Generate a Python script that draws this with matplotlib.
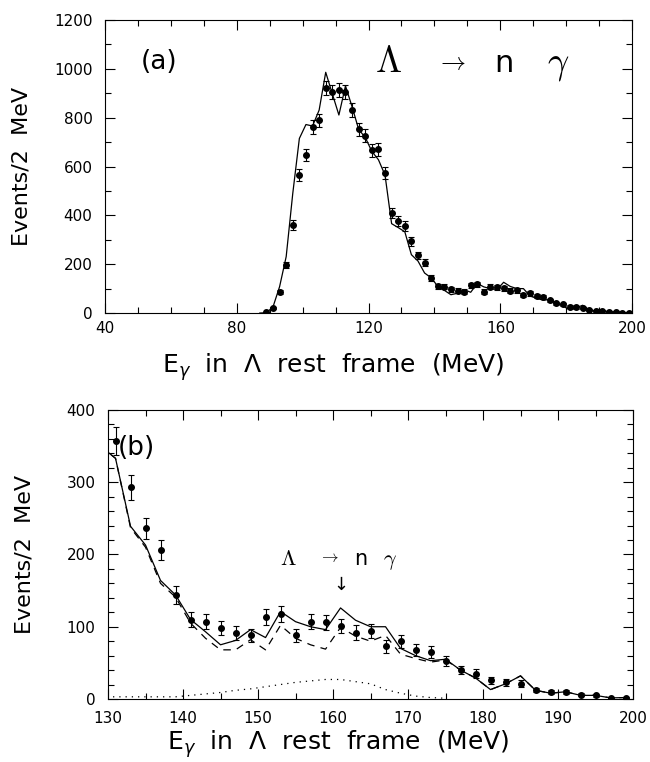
import matplotlib.pyplot as plt
from matplotlib.ticker import MultipleLocator

# measured spectrum, 2 MeV bins (bin centres in MeV)
energy = [89, 91, 93, 95, 97, 99, 101, 103, 105, 107,
          109, 111, 113, 115, 117, 119, 121, 123, 125, 127,
          129, 131, 133, 135, 137, 139, 141, 143, 145, 147,
          149, 151, 153, 155, 157, 159, 161, 163, 165, 167,
          169, 171, 173, 175, 177, 179, 181, 183, 185, 187,
          189, 191, 193, 195, 197, 199]
events = [3, 20, 87, 197, 360, 565, 648, 762, 789, 921,
          905, 914, 905, 831, 753, 727, 667, 671, 573, 410,
          377, 357, 293, 236, 206, 144, 110, 107, 98, 91,
          88, 113, 117, 88, 107, 106, 101, 92, 94, 73,
          80, 68, 65, 52, 40, 35, 26, 23, 21, 12,
          10, 10, 6, 5, 2, 2]
errors = [2, 4, 9, 14, 19, 24, 25, 28, 28, 30,
          30, 30, 30, 29, 27, 27, 26, 26, 24, 20,
          19, 19, 17, 15, 14, 12, 10, 10, 10, 10,
          9, 11, 11, 9, 10, 10, 10, 10, 10, 9,
          9, 8, 8, 7, 6, 6, 5, 5, 5, 3,
          3, 3, 2, 2, 1, 1]

# simulation: total (solid)
mc_energy = [87, 89, 91, 93, 95, 97, 99, 101, 103, 105,
             107, 109, 111, 113, 115, 117, 119, 121, 123, 125,
             127, 129, 131, 133, 135, 137, 139, 141, 143, 145,
             147, 149, 151, 153, 155, 157, 159, 161, 163, 165,
             167, 169, 171, 173, 175, 177, 179, 181, 183, 185,
             187, 189, 191, 193, 195, 197, 199]
mc_total = [0, 1, 25, 108, 231, 490, 715, 772, 766, 831,
            986, 898, 811, 930, 845, 752, 719, 662, 628, 565,
            366, 350, 333, 239, 213, 164, 144, 110, 93, 75,
            81, 96, 85, 121, 107, 100, 96, 126, 109, 100,
            100, 70, 60, 53, 55, 40, 29, 13, 21, 32,
            12, 8, 10, 5, 5, 1.5, 2]

# background only (dashed)
bkg_energy = [129, 131, 133, 135, 137, 139, 141, 143, 145, 147,
              149, 151, 153, 155, 157, 159, 161, 163, 165, 167,
              169, 171, 173, 175, 177, 179, 181, 183, 185, 187,
              189, 191, 193, 195, 197, 199]
mc_bkg = [350, 333, 237, 210, 160, 141, 105, 84, 68, 68,
          82, 68, 102, 84, 75, 69, 99, 87, 80, 88,
          62, 56, 51, 54, 40, 29, 13, 21, 32, 12,
          8, 10, 5, 5, 1.5, 2]

# Lambda -> n gamma signal (dotted)
sig_energy = [129, 131, 133, 135, 137, 139, 141, 143, 145, 147,
              149, 151, 153, 155, 157, 159, 161, 163, 165, 167,
              169, 171, 173, 175]
mc_sig = [3, 3, 3, 3, 3, 3, 5, 7, 9, 12,
          14, 17, 20, 23, 25, 27, 27, 24, 21, 13,
          8, 4, 2, 1]

plt.rcParams['font.family'] = 'DejaVu Sans'

fig = plt.figure(figsize=(6.5, 7.62), dpi=100)
ax1 = fig.add_axes([0.1615, 0.5892, 0.811, 0.3845])
ax2 = fig.add_axes([0.1662, 0.0827, 0.8077, 0.3793])

xlab = r'E$_{\gamma}$  in  $\Lambda$  rest  frame  (MeV)'

for ax in (ax1, ax2):
    ax.errorbar(energy, events, yerr=errors, fmt='o', color='black',
                markersize=4, elinewidth=0.8, capsize=2.2, capthick=0.8)
    ax.plot(mc_energy, mc_total, color='black', lw=0.9)
    ax.tick_params(which='both', direction='in', top=True, right=True,
                   labelsize=11, width=0.8)
    ax.tick_params(which='major', length=7)
    ax.tick_params(which='minor', length=4)
    for s in ax.spines.values():
        s.set_linewidth(0.8)
    ax.set_ylabel('Events/2  MeV', fontsize=16)
    ax.yaxis.set_label_coords(-0.14, 0.5)

# panel (a)
ax1.set_xlim(40, 200)
ax1.set_ylim(0, 1200)
ax1.xaxis.set_major_locator(MultipleLocator(40))
ax1.xaxis.set_minor_locator(MultipleLocator(10))
ax1.yaxis.set_major_locator(MultipleLocator(200))
ax1.yaxis.set_minor_locator(MultipleLocator(100))
ax1.tick_params(axis='y', pad=9)
ax1.tick_params(axis='x', pad=6)
ax1.set_xlabel(xlab, fontsize=18)
ax1.xaxis.set_label_coords(0.433, -0.13)
ax1.text(51, 1030, '(a)', fontsize=19, ha='left', va='center')
ax1.text(126, 987, r'$\Lambda$', fontsize=27, ha='center', va='baseline', math_fontfamily='cm')
ax1.text(145, 1000, r'$\rightarrow$', fontsize=18, ha='center', va='baseline', math_fontfamily='cm')
ax1.text(161, 987, 'n', fontsize=22, ha='center', va='baseline')
ax1.text(177.7, 987, r'$\gamma$', fontsize=27, ha='center', va='baseline', math_fontfamily='cm')

# panel (b)
ax2.plot(bkg_energy, mc_bkg, color='black', lw=0.9, ls=(0, (6, 5)))
ax2.plot(sig_energy, mc_sig, color='black', lw=0.9, ls=(0, (1, 4)))
ax2.set_xlim(130, 200)
ax2.set_ylim(0, 400)
ax2.xaxis.set_major_locator(MultipleLocator(10))
ax2.xaxis.set_minor_locator(MultipleLocator(5))
ax2.yaxis.set_major_locator(MultipleLocator(100))
ax2.yaxis.set_minor_locator(MultipleLocator(20))
ax2.tick_params(axis='y', pad=9)
ax2.tick_params(axis='x', pad=9)
ax2.set_xlabel(xlab, fontsize=18)
ax2.xaxis.set_label_coords(0.438, -0.1)
ax2.text(131.3, 348, '(b)', fontsize=19, ha='left', va='center')
ax2.text(154.1, 185, r'$\Lambda$', fontsize=16, ha='center', va='baseline', math_fontfamily='cm')
ax2.text(159.5, 190, r'$\rightarrow$', fontsize=12, ha='center', va='baseline', math_fontfamily='cm')
ax2.text(163.7, 185, 'n', fontsize=15, ha='center', va='baseline')
ax2.text(167.6, 185, r'$\gamma$', fontsize=16, ha='center', va='baseline', math_fontfamily='cm')
ax2.text(161.1, 158, '↓', fontsize=13, ha='center', va='center')

fig.savefig('out.png', dpi=100)
